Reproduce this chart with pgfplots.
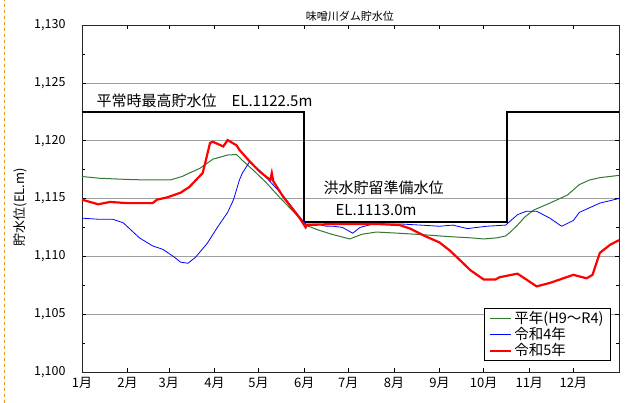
\documentclass[border=0pt]{standalone}
\usepackage{fontspec}
\setmainfont{Noto Sans CJK JP}
\usepackage{pgfplots}
\pgfplotsset{compat=1.18}
\definecolor{heinen}{RGB}{50,120,50}
\definecolor{regblue}{RGB}{0,0,255}
\definecolor{regred}{RGB}{255,0,0}
\definecolor{dashorange}{RGB}{230,150,30}
\begin{document}
\begin{tikzpicture}
\begin{axis}[
  scale only axis, width=537pt, height=347pt,
  xmin=0, xmax=365, ymin=1100, ymax=1130,
  xtick={0,31,59,90,120,151,181,212,243,273,304,334},
  xticklabels={1月,2月,3月,4月,5月,6月,7月,8月,9月,10月,11月,12月},
  ytick={1100,1105,1110,1115,1120,1125,1130},
  minor y tick num=1,
  ymajorgrids, grid style={gray!75, line width=0.6pt},
  tick align=inside, major tick length=4pt, minor tick length=3pt,
  tick style={black, line width=0.5pt},
  axis line style={line width=0.9pt, black!85},
  /pgf/number format/1000 sep={,},
  /pgf/number format/assume math mode=true,
  yticklabel style={font=\fontsize{12.5}{14}\selectfont, xshift=-13pt},
  xticklabel style={font=\fontsize{13}{15}\selectfont, yshift=-2pt},
  ylabel={貯水位(EL.m)},
  ylabel style={at={(axis description cs:-0.115,0.475)}, anchor=center, font=\fontsize{13}{15}\selectfont},
  legend style={at={(axis description cs:0.985,0.032)}, anchor=south east, draw=black, line width=0.8pt,
    font=\fontsize{14.5}{16}\selectfont, inner xsep=5pt, inner ysep=1pt, row sep=-1.5pt, cells={anchor=west}},
  legend image code/.code={\draw[#1] (0pt,0pt) -- (21pt,0pt);},
  clip=false,
]
% regulation line
\addplot[black, line width=2.2pt, forget plot] coordinates {
 (0,1122.5) (151,1122.5) (151,1113.0) (289,1113.0) (289,1122.5) (365,1122.5)};

% 平年
\addplot[heinen, line width=1pt] coordinates {
 (0,1116.9)(12,1116.75)(30,1116.65)(44,1116.6)(60,1116.6)(68,1116.9)(73,1117.2)(80,1117.6)
 (89,1118.4)(99,1118.76)(105,1118.8)(109,1118.3)(116,1117.5)(125,1116.4)(135,1115.0)
 (145,1113.7)(152,1112.7)(160,1112.3)(170,1111.9)(182,1111.5)(190,1111.9)(200,1112.1)
 (215,1112.0)(234,1111.85)(250,1111.7)(264,1111.6)(273,1111.5)(282,1111.6)(288,1111.76)
 (292,1112.2)(296,1112.7)(301,1113.4)(307,1114.0)(318,1114.6)(330,1115.3)(338,1116.2)
 (345,1116.6)(352,1116.8)(365,1117.0)};
\addlegendentry{平年(H9～R4)}

% 令和4年
\addplot[regblue, line width=0.8pt] coordinates {
 (0,1113.3)(12,1113.2)(21,1113.2)(28,1112.9)(39,1111.6)(48,1110.9)(55,1110.6)(62,1110.0)
 (67,1109.5)(72,1109.4)(77,1109.9)(85,1111.1)(92,1112.5)(99,1113.8)(103,1114.9)(107,1116.6)
 (109,1117.2)(114,1118.2)(121,1117.4)(129,1116.3)(137,1115.2)(148,1113.4)(152,1112.8)
 (160,1112.8)(166,1112.6)(171,1112.6)(177,1112.5)(184,1112.0)(189,1112.5)(198,1112.8)
 (216,1112.8)(230,1112.7)(243,1112.6)(252,1112.7)(262,1112.4)(275,1112.6)(288,1112.7)
 (296,1113.6)(302,1113.9)(309,1113.9)(318,1113.3)(326,1112.6)(334,1113.1)(338,1113.8)
 (345,1114.2)(352,1114.6)(365,1115.0)};
\addlegendentry{令和4年}

% 令和5年
\addplot[regred, line width=2.2pt] coordinates {
 (0,1114.9)(11,1114.5)(19,1114.7)(31,1114.6)(48,1114.6)(51,1114.9)(58,1115.1)(67,1115.5)
 (73,1116.0)(82,1117.2)(84,1118.2)(87,1119.8)(89,1119.9)(96,1119.5)(99,1120.05)(105,1119.6)
 (107,1119.2)(114,1118.2)(121,1117.3)(128,1116.6)(129,1117.2)(130,1116.5)(137,1115.1)
 (148,1113.3)(152,1112.5)(153,1112.7)(171,1112.8)(200,1112.8)(216,1112.7)(223,1112.4)
 (234,1111.7)(243,1111.2)(250,1110.5)(255,1109.9)(264,1108.8)(273,1108.0)(281,1108.0)
 (284,1108.2)(296,1108.5)(302,1108.0)(309,1107.4)(318,1107.7)(334,1108.4)(343,1108.1)
 (347,1108.4)(352,1110.3)(359,1111.0)(365,1111.4)};
\addlegendentry{令和5年}

\node[anchor=west, font=\fontsize{15}{17}\selectfont] at (axis cs:7.5,1123.45) {平常時最高貯水位　EL.1122.5m};
\node[anchor=west, font=\fontsize{15}{17}\selectfont] at (axis cs:161.8,1115.9) {洪水貯留準備水位};
\node[anchor=west, font=\fontsize{15}{17}\selectfont] at (axis cs:170,1114.0) {EL.1113.0m};
\node[font=\fontsize{11}{13}\selectfont] at (axis description cs:0.499,1.026) {味噌川ダム貯水位};
\end{axis}
\path (current axis.south west) ++(-82pt,-31pt) coordinate (BL);
\path[use as bounding box] (BL) rectangle ++(632pt,403pt);
\draw[dashorange, line width=1pt, dash pattern=on 3pt off 3pt] ([xshift=5pt]BL) -- ++(0,403pt);
\end{tikzpicture}
\end{document}
